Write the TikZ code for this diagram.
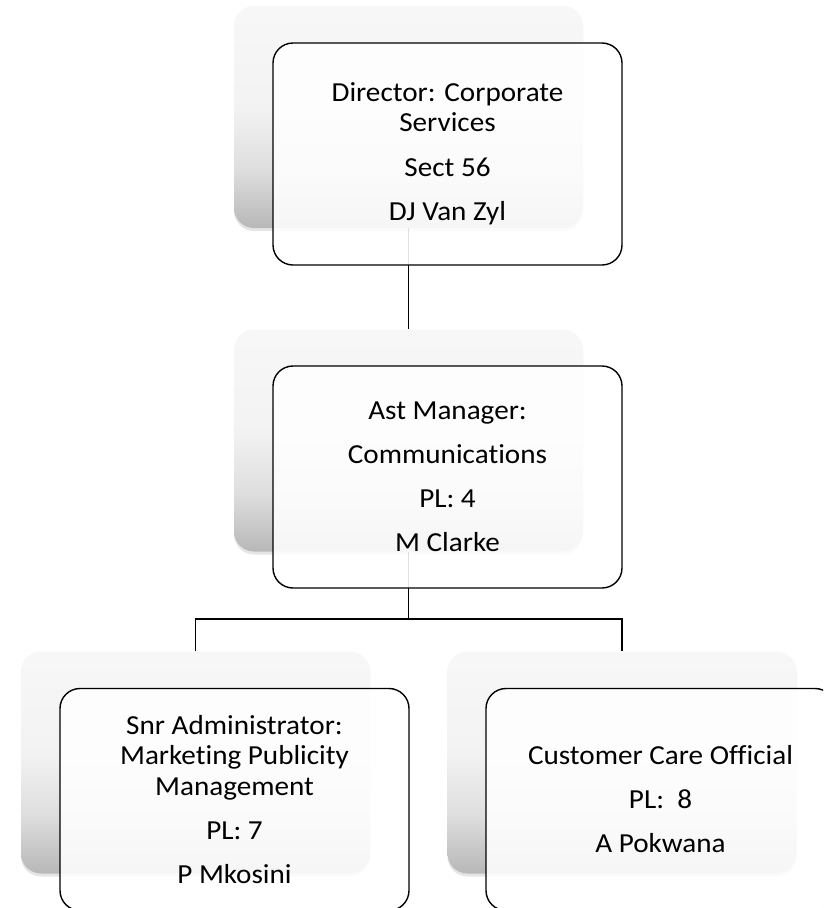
\documentclass[tikz,border=0pt]{standalone}
\usepackage{fontspec}
\setmainfont[FakeStretch=1.06, Ligatures={NoCommon}]{Carlito}
\usetikzlibrary{shadows}

% soft grey fade used for the shadow card behind each post
\pgfdeclareverticalshading{backfade}{100bp}{%
  color(0bp)=(black!28); color(25bp)=(black!28); color(38bp)=(black!13);
  color(52bp)=(black!5); color(75bp)=(black!3); color(100bp)=(black!3)}

\tikzset{
  backcard/.style={rectangle, rounded corners=20pt, shading=backfade,
    minimum width=349pt, minimum height=222pt, inner sep=0pt,
    drop shadow={shadow xshift=0pt, shadow yshift=-3pt, opacity=0.10, fill=black}},
  postbox/.style={rectangle, rounded corners=20pt, draw=black, line width=1.4pt,
    fill=white, fill opacity=0.88, text opacity=1,
    minimum width=349pt, minimum height=222pt, inner sep=0pt,
    align=center, font=\fontsize{27.5}{30.5}\selectfont},
  link/.style={draw=black, line width=1.5pt}
}

\begin{document}
\begin{tikzpicture}[x=1pt, y=-1pt]
  \clip (0,0) rectangle (823,908);
  \fill[white] (0,0) rectangle (823,908);

  % shadow cards
  \node[backcard] (b1) at (408.5,117) {};
  \node[backcard] (b2) at (408.5,440.5) {};
  \node[backcard] (b3) at (195.5,762.5) {};
  \node[backcard] (b4) at (622,762.5) {};

  % reporting lines
  \coordinate (jn) at (408.5,619);
  \path[link] (b1.south) -- (b2.north);
  \path[link] (b2.south) -- (jn);
  \path[link] (b3.north) |- (jn) -| (b4.north);

  % posts
  \node[postbox] (p1) at (447.5,154) {Director: Corporate\\Services\\[14pt]Sect 56\\[14pt]DJ Van Zyl};
  \node[postbox] (p2) at (447.5,477) {Ast Manager:\\[13.5pt]Communications\\[13.5pt]PL: 4\\[13.5pt]M Clarke};
  \node[postbox] (p3) at (234.5,799.5) {Snr Administrator:\\Marketing Publicity\\Management\\[13.5pt]PL: 7\\[13.5pt]P Mkosini};
  \node[postbox] (p4) at (660.5,799.5) {Customer Care Official\\[13.5pt]PL:\ \ 8\\[13.5pt]A Pokwana};
\end{tikzpicture}
\end{document}
